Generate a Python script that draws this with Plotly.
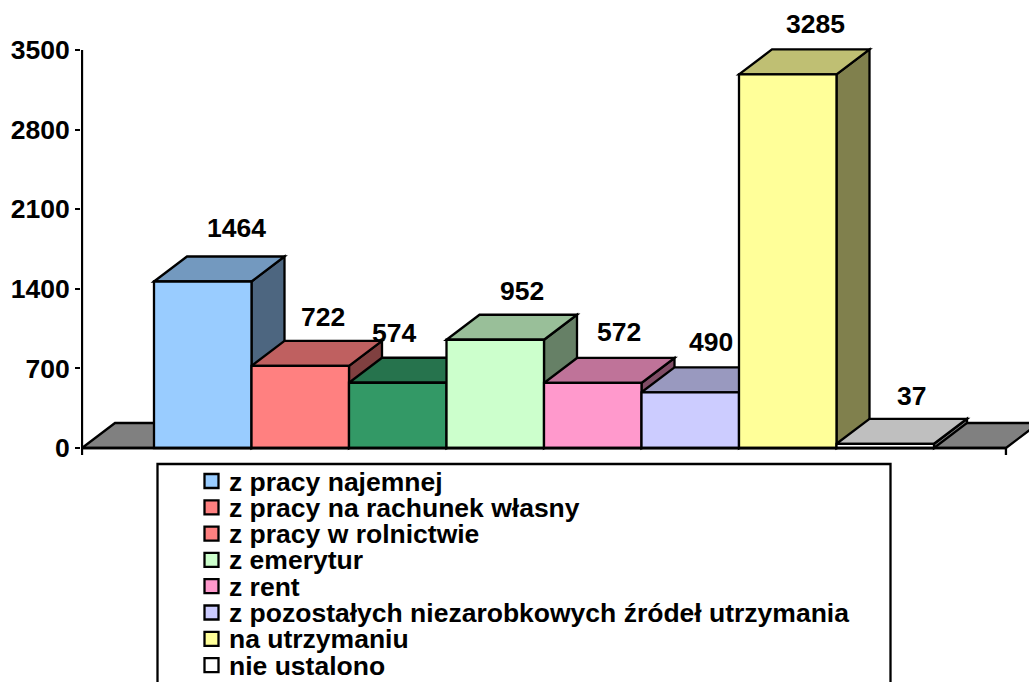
import plotly.graph_objects as go

# ---------- data ----------
categories = ["z pracy najemnej", "z pracy na rachunek własny", "z pracy w rolnictwie",
              "z emerytur", "z rent", "z pozostałych niezarobkowych źródeł utrzymania",
              "na utrzymaniu", "nie ustalono"]
values = [1464, 722, 574, 952, 572, 490, 3285, 37]
tick_values = [0, 700, 1400, 2100, 2800, 3500]

front_colors = ["#99CCFF", "#FF8080", "#339966", "#CCFFCC", "#FF99CC", "#CCCCFF", "#FFFF99", "#FFFFFF"]
top_colors = ["#7399BF", "#BF6060", "#26734D", "#99BF99", "#BF7399", "#9999BF", "#BFBF73", "#BFBFBF"]
side_colors = ["#4D6680", "#804040", "#1A4D33", "#668066", "#804D66", "#666680", "#80804D", "#808080"]
legend_colors = ["#99CCFF", "#FF8080", "#FF8080", "#CCFFCC", "#FF99CC", "#CCCCFF", "#FFFF99", "#FFFFFF"]

# ---------- layout constants ----------
W, H = 1029, 682
FONT = "Liberation Sans"
SIZE = 26.5
LW = 2.3
PX_UNIT_X = 97.5
PX_UNIT_Y = 398 / 3500
X0_PX = 202.75          # pixel centre of the first bar
Y0_PX = 448             # pixel of value 0
DX = 33 / PX_UNIT_X     # depth in x units
DY = 25 / PX_UNIT_Y     # depth in y units
AX_L, AX_R = -1.2385, 8.238

PLOT_L, PLOT_R, PLOT_T, PLOT_B = 81, W, 47, 455
x_range = [(PLOT_L - X0_PX) / PX_UNIT_X, (PLOT_R - X0_PX) / PX_UNIT_X]
y_range = [(Y0_PX - PLOT_B) / PX_UNIT_Y, (Y0_PX - PLOT_T) / PX_UNIT_Y]

label_shift_x = [34, 23, -4, 27, 26, 21, 28, 26]
label_shift_y = [54, 49, 50, 49, 51, 50, 50, 48]


def px_x(px):
    return (px - PLOT_L) / (PLOT_R - PLOT_L)


def px_y(px):
    return (PLOT_B - px) / (PLOT_B - PLOT_T)


def poly(pts):
    return "M " + " L ".join(f"{x:.4f},{y:.3f}" for x, y in pts) + " Z"


shapes = []
edge = dict(color="black", width=LW)

# floor
shapes.append(dict(type="path", xref="x", yref="y", layer="below", fillcolor="#808080", line=edge,
                   path=poly([(AX_L, 0), (AX_L + DX, DY), (AX_R + DX, DY), (AX_R, 0)])))

# depth faces, painted left to right
for i, v in enumerate(values):
    l, r = i - 0.5, i + 0.5
    shapes.append(dict(type="path", xref="x", yref="y", layer="below", fillcolor=side_colors[i], line=edge,
                       path=poly([(r, 0), (r + DX, DY), (r + DX, v + DY), (r, v)])))
    shapes.append(dict(type="path", xref="x", yref="y", layer="below", fillcolor=top_colors[i], line=edge,
                       path=poly([(l, v), (l + DX, v + DY), (r + DX, v + DY), (r, v)])))

# axis lines
shapes.append(dict(type="line", xref="x", yref="y", x0=AX_L, x1=AX_L, y0=y_range[0], y1=tick_values[-1], line=edge))
shapes.append(dict(type="line", xref="x", yref="y", x0=AX_L, x1=AX_R, y0=0, y1=0, line=edge))
shapes.append(dict(type="line", xref="x", yref="y", x0=AX_R, x1=AX_R, y0=0, y1=y_range[0], line=edge))

# legend box, running off the bottom of the page
shapes.append(dict(type="rect", xref="paper", yref="paper", x0=px_x(157.5), x1=px_x(890.5),
                   y0=px_y(700), y1=px_y(464), fillcolor="white", line=edge))

annotations = []
for i, (v, sx, sy) in enumerate(zip(values, label_shift_x, label_shift_y)):
    annotations.append(dict(x=i, y=v, xref="x", yref="y", text=str(v), showarrow=False,
                            xshift=sx, yshift=sy, xanchor="center", yanchor="middle",
                            font=dict(family=FONT, size=SIZE, color="black", weight=700)))

# legend rows
ROW0, ROW_STEP = 481, 26.3
for i, (name, col) in enumerate(zip(categories, legend_colors)):
    yc = ROW0 + ROW_STEP * i
    shapes.append(dict(type="rect", xref="paper", yref="paper", x0=px_x(204.5), x1=px_x(218.5),
                       y0=px_y(yc + 7), y1=px_y(yc - 7), fillcolor=col, line=edge))
    annotations.append(dict(x=px_x(227), y=px_y(yc + 0.5), xref="paper", yref="paper", text=name, showarrow=False,
                            xanchor="left", yanchor="middle",
                            font=dict(family=FONT, size=SIZE, color="black", weight=700)))

fig = go.Figure()
for i, (name, v) in enumerate(zip(categories, values)):
    fig.add_trace(go.Bar(x=[i], y=[v], width=1, name=name, showlegend=False,
                         marker=dict(color=front_colors[i], line=dict(color="black", width=LW))))

fig.update_layout(
    width=W, height=H, barmode="overlay", showlegend=False,
    paper_bgcolor="white", plot_bgcolor="rgba(0,0,0,0)",
    margin=dict(l=PLOT_L, r=W - PLOT_R, t=PLOT_T, b=H - PLOT_B, pad=0, autoexpand=False),
    shapes=shapes, annotations=annotations,
    xaxis=dict(range=x_range, visible=False, fixedrange=True),
    yaxis=dict(range=y_range, tickvals=tick_values, ticks="outside", ticklen=5, tickwidth=2, tickcolor="black",
               showgrid=False, zeroline=False, showline=False, fixedrange=True,
               tickfont=dict(family=FONT, size=SIZE, color="black", weight=700)),
)
fig.write_html("out.html", config=dict(displayModeBar=False),
               post_script="document.body.style.margin='0';document.documentElement.style.overflow='hidden';")
